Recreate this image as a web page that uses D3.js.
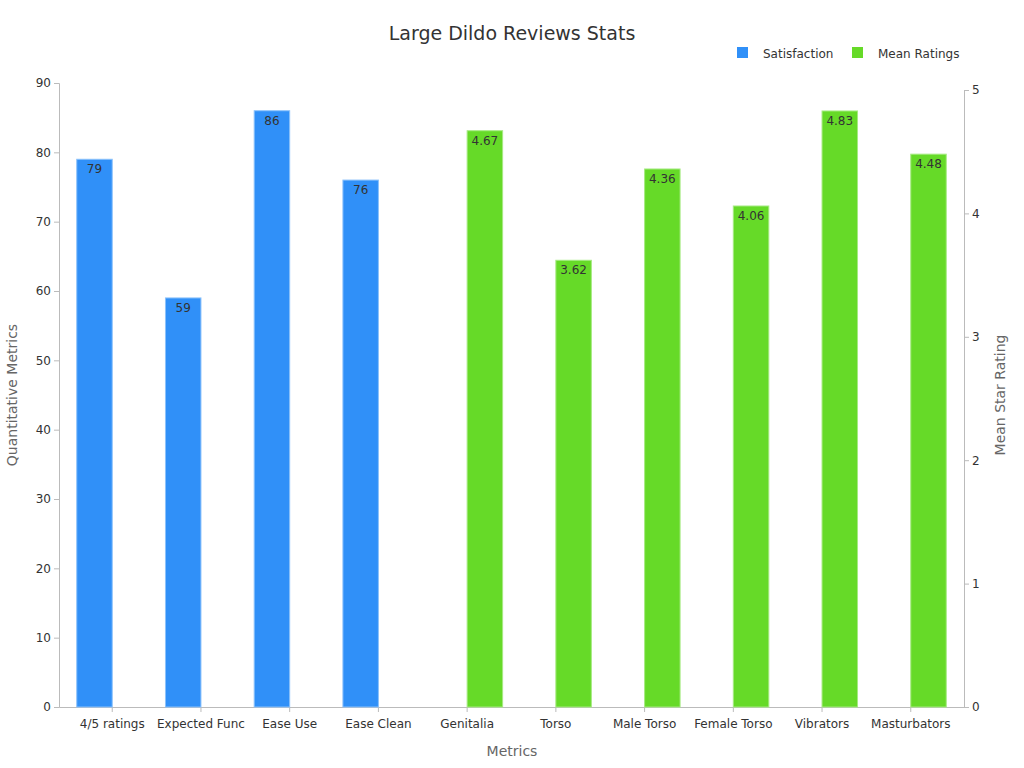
<!DOCTYPE html>
<html><head><meta charset="utf-8">
<script src="https://cdn.jsdelivr.net/npm/d3@7"></script>
<style>body{margin:0;font-family:"DejaVu Sans",sans-serif;background:#fff}</style>
</head><body><svg id="chart" width="1024" height="768"></svg>
<script>
var categories = ["4/5 ratings","Expected Func","Ease Use","Ease Clean","Genitalia","Torso","Male Torso","Female Torso","Vibrators","Masturbators"];
var satisfaction = [79,59,86,76,null,null,null,null,null,null];
var meanRatings = [null,null,null,null,4.67,3.62,4.36,4.06,4.83,4.48];
var leftTicks = [0,10,20,30,40,50,60,70,80,90];
var rightTicks = [0,1,2,3,4,5];

var svg = d3.select('#chart');
var plotLeft = 59, plotRight = 964, plotTop = 83, plotBottom = 707;

var x0 = d3.scaleBand().domain(categories).range([plotLeft,plotRight]).padding(0.2);
var x1 = d3.scaleBand().domain(['s','m']).range([0,x0.bandwidth()]);
var yL = d3.scaleLinear().domain([0,90]).range([plotBottom,plotTop]);
var yR = d3.scaleLinear().domain([0,5]).range([plotBottom,90]);

svg.append('text').attr('x',512).attr('y',40).attr('text-anchor','middle')
	.style('font-size','19px').style('fill','#333').text('Large Dildo Reviews Stats');

var gl = svg.append('g').attr('transform','translate('+plotLeft+',0)')
	.call(d3.axisLeft(yL).tickValues(leftTicks).tickSize(5));
var gr = svg.append('g').attr('transform','translate('+plotRight+',0)')
	.call(d3.axisRight(yR).tickValues(rightTicks).tickFormat(d3.format('d')).tickSize(5));
var gx = svg.append('g').attr('transform','translate(0,'+plotBottom+')')
	.call(d3.axisBottom(x0).tickSize(5).tickSizeOuter(0));
[gl,gr,gx].forEach(function(g){
	g.selectAll('path,line').attr('stroke','#bbb');
	g.selectAll('text').style('font-size','12px').style('fill','#333').style('font-family','DejaVu Sans');
});
gx.selectAll('text').attr('dy','1.1em');

svg.append('text').attr('x',512).attr('y',756).attr('text-anchor','middle')
	.style('font-size','14px').style('fill','#666').text('Metrics');
svg.append('text').attr('transform','translate(17,395) rotate(-90)').attr('text-anchor','middle')
	.style('font-size','14px').style('fill','#666').text('Quantitative Metrics');
svg.append('text').attr('transform','translate(1005,395) rotate(-90)').attr('text-anchor','middle')
	.style('font-size','14px').style('fill','#666').text('Mean Star Rating');

function drawBars(vals, key, scale, color, stroke){
	var d = categories.map(function(c,i){return {c:c,v:vals[i]};}).filter(function(o){return o.v!=null;});
	svg.append('g').selectAll('rect').data(d).enter().append('rect')
		.attr('x',function(o){return x0(o.c)+x1(key);})
		.attr('y',function(o){return scale(o.v);})
		.attr('width',x1.bandwidth())
		.attr('height',function(o){return plotBottom-scale(o.v);})
		.attr('fill',color).attr('stroke',stroke).attr('stroke-width',1);
	svg.append('g').selectAll('text').data(d).enter().append('text')
		.attr('x',function(o){return x0(o.c)+x1(key)+x1.bandwidth()/2;})
		.attr('y',function(o){return scale(o.v)+14;})
		.attr('text-anchor','middle').style('font-size','12px').style('fill','#333')
		.text(function(o){return o.v;});
}
drawBars(satisfaction,'s',yL,'#3090f8','#8cc2fb');
drawBars(meanRatings,'m',yR,'#66da28','#a6ea82');

var legend = [{n:'Satisfaction',c:'#3090f8',x:737},{n:'Mean Ratings',c:'#66da28',x:852}];
legend.forEach(function(l){
	svg.append('rect').attr('x',l.x).attr('y',47).attr('width',11).attr('height',11).attr('fill',l.c);
	svg.append('text').attr('x',l.x+26).attr('y',58).style('font-size','12px').style('fill','#333').text(l.n);
});
</script></body></html>
